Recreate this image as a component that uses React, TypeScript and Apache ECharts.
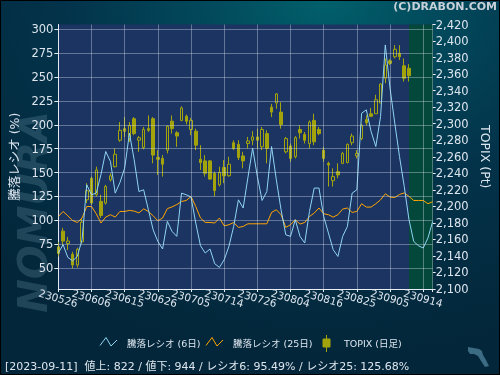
import React, { useEffect, useRef } from 'react';
import * as echarts from 'echarts';

const dates = ['230526','230529','230530','230531','230601','230602','230605','230606','230607','230608','230609','230612','230613','230614','230615','230616','230619','230620','230621','230622','230623','230626','230627','230628','230629','230630','230703','230704','230705','230706','230707','230710','230711','230712','230713','230714','230718','230719','230720','230721','230724','230725','230726','230727','230728','230731','230801','230802','230803','230804','230807','230808','230809','230810','230814','230815','230816','230817','230818','230821','230822','230823','230824','230825','230828','230829','230830','230831','230901','230904','230905','230906','230907','230908','230911','230912','230913','230914','230915','230919'];

// TOPIX daily candles: [open, close, low, high]
const topix = [
[2151,2143,2139,2157],[2170,2158,2153,2174],[2155,2158,2147,2163],[2142,2129,2125,2145],[2129,2148,2126,2150],
[2157,2181,2155,2186],[2208,2219,2204,2228],[2234,2204,2202,2236],[2214,2244,2212,2248],[2206,2189,2186,2214],
[2204,2224,2202,2226],[2232,2237,2230,2240],[2248,2263,2247,2270],[2280,2292,2278,2302],[2294,2291,2284,2308],
[2282,2298,2278,2302],[2306,2288,2286,2308],[2280,2283,2266,2285],[2271,2293,2269,2296],[2294,2292,2290,2310],
[2306,2262,2252,2308],[2259,2257,2238,2268],[2258,2251,2236,2262],[2268,2297,2264,2298],[2303,2294,2288,2310],
[2289,2285,2272,2291],[2304,2319,2303,2321],[2309,2303,2299,2311],[2293,2304,2286,2307],[2291,2274,2268,2294],
[2257,2253,2244,2274],[2255,2240,2236,2262],[2255,2233,2232,2256],[2240,2219,2212,2242],[2226,2241,2224,2248],
[2247,2237,2228,2256],[2237,2251,2236,2260],[2277,2270,2268,2280],[2275,2259,2256,2280],[2261,2255,2246,2266],
[2276,2279,2270,2284],[2280,2284,2274,2291],[2284,2280,2270,2294],[2272,2293,2268,2296],[2288,2270,2252,2292],
[2320,2314,2308,2324],[2325,2336,2318,2337],[2314,2299,2294,2326],[2266,2282,2264,2284],[2273,2258,2254,2276],
[2260,2283,2258,2285],[2293,2289,2282,2298],[2287,2280,2276,2290],[2276,2302,2270,2304],[2304,2278,2274,2312],
[2293,2288,2286,2296],[2268,2258,2254,2272],[2252,2250,2224,2254],[2231,2236,2224,2246],[2242,2238,2234,2252],
[2252,2264,2251,2266],[2253,2275,2252,2276],[2277,2285,2274,2288],[2261,2264,2258,2268],[2282,2298,2280,2300],
[2305,2301,2298,2310],[2312,2309,2308,2319],[2312,2329,2312,2335],[2325,2348,2325,2349],[2355,2371,2349,2379],
[2376,2373,2371,2378],[2381,2390,2379,2395],[2385,2381,2377,2395],[2370,2355,2351,2379],[2367,2358,2351,2372],
];

// 騰落レシオ (6日)
const ratio6 = [
65.7,74.4,61.1,57.5,62.1,79.6,137.1,126.7,128.4,148.0,
172.0,161.5,128.4,139.5,154.6,191.2,163.3,130.1,131.9,111.0,
90.1,77.8,69.9,98.8,88.3,83.1,128.4,126.7,124.3,97.1,
73.3,65.7,69.9,54.5,50.6,58.7,72.6,93.5,121.4,112.8,
144.5,175.5,145.8,120.7,130.1,177.2,142.4,111.0,84.8,83.1,
100.5,83.1,76.2,109.2,133.7,133.7,104.0,86.6,69.2,62.1,
83.1,93.5,128.4,131.9,212.1,215.6,192.9,177.2,208.6,283.6,
238.3,201.7,166.7,135.4,100.5,77.8,73.3,70.9,81.4,98.8,
];

// 騰落レシオ (25日)
const ratio25 = [
103.9,109.2,104.7,99.8,97.7,102.3,114.4,114.4,106.8,97.1,
103.3,105.8,103.3,109.2,109.2,110.3,109.6,107.7,111.9,109.2,
104.7,99.5,102.3,112.2,114.0,116.4,119.7,120.7,124.9,114.4,
102.3,97.7,97.7,97.1,102.3,94.2,95.3,97.7,92.5,93.5,
96.3,96.3,96.3,96.3,96.3,108.2,111.0,105.8,92.5,95.3,
100.5,96.0,97.7,103.9,107.5,112.8,106.8,105.8,103.3,105.8,
111.7,112.8,108.2,109.2,117.3,113.8,113.8,117.3,121.4,127.7,
124.3,123.8,127.0,128.7,124.9,120.7,120.7,120.7,117.3,119.4,
];

const leftTicks = [50, 75, 100, 125, 150, 175, 200, 225, 250, 275, 300];
const dateTickStep = 7;
const futureStart = '230911';
const futureEnd = '230919';
const legendNames = ['騰落レシオ (6日)', '騰落レシオ (25日)', 'TOPIX (日足)'];
const leftAxisName = '騰落レシオ (%)';
const rightAxisName = 'TOPIX (Pt)';
const titleText = '(C)DRABON.COM';
const watermarkText = 'NOMURA';
const statusText = '[2023-09-11]  値上: 822 / 値下: 944 / レシオ6: 95.49% / レシオ25: 125.68%';

const FONT = '"DejaVu Sans", "Noto Sans CJK JP", sans-serif';
const TXT = '#dde5ee';
const OLIVE = '#a3a30c';
const BLUE = '#8fd4f2';
const ORANGE = '#ffa500';
const GRID = 'rgba(215,225,240,0.38)';

export default function App() {
  const ref = useRef<HTMLDivElement>(null);
  useEffect(() => {
    const chart = echarts.init(ref.current as HTMLDivElement, null, { renderer: 'svg' });
    const gridMarks: any[] = leftTicks.map((v) => ({ yAxis: v }));
    dates.forEach((d, i) => {
      if (i % dateTickStep === 0) gridMarks.push({ xAxis: d });
    });
    const option: any = {
      animation: false,
      backgroundColor: {
        type: 'radial', x: 0.65, y: 0, r: 0.95,
        colorStops: [
          { offset: 0, color: '#01606b' },
          { offset: 0.25, color: '#02495c' },
          { offset: 0.55, color: '#03334a' },
          { offset: 1, color: '#03263a' },
        ],
      },
      textStyle: { fontFamily: FONT },
      grid: { left: 57.5, right: 62, top: 24.5, bottom: 86, show: true, backgroundColor: '#1c3462', borderWidth: 0 },
      xAxis: {
        type: 'category', data: dates, boundaryGap: false,
        axisLine: { lineStyle: { color: '#e8eef4', width: 1 } },
        axisTick: { show: true, interval: dateTickStep - 1, length: 3, lineStyle: { color: '#e8eef4' } },
        axisLabel: {
          interval: 0, rotate: -16, align: 'center', verticalAlign: 'middle', margin: 9,
          hideOverlap: false,
          formatter: (v: string, i: number) => (i % dateTickStep === 0 ? v : ''),
          color: TXT, fontSize: 10.5, fontFamily: FONT,
        },
        splitLine: { show: false },
      },
      yAxis: [
        {
          type: 'value', min: 28, max: 305, position: 'left',
          name: leftAxisName, nameLocation: 'middle', nameGap: 30,
          nameTextStyle: { color: TXT, fontSize: 12.5, fontFamily: FONT },
          axisLine: { show: true, lineStyle: { color: '#e8eef4', width: 1 } },
          axisTick: { show: true, length: 4, customValues: leftTicks, lineStyle: { color: '#e8eef4' } },
          axisLabel: { customValues: leftTicks, margin: 5, color: TXT, fontSize: 11.5, fontFamily: FONT },
          splitLine: { show: false },
        },
        {
          type: 'value', min: 2100, max: 2420, interval: 20, position: 'right',
          name: rightAxisName, nameLocation: 'middle', nameGap: 42, nameRotate: -90,
          nameTextStyle: { color: TXT, fontSize: 12.5, fontFamily: FONT },
          axisLine: { show: true, lineStyle: { color: '#e8eef4', width: 1 } },
          axisTick: { show: true, length: 3, lineStyle: { color: '#e8eef4' } },
          axisLabel: {
            margin: 3, color: TXT, fontSize: 11.5, fontFamily: FONT,
            formatter: (v: number) => v.toLocaleString('en-US'),
          },
          splitLine: { show: false },
        },
      ],
      series: [
        {
          type: 'candlestick', name: legendNames[2], yAxisIndex: 1, data: topix, barWidth: 3, z: 1,
          itemStyle: { color: 'transparent', color0: OLIVE, borderColor: OLIVE, borderColor0: OLIVE, borderWidth: 1 },
          markArea: {
            silent: true,
            itemStyle: { color: '#03483a' },
            data: [[{ xAxis: futureStart }, { xAxis: futureEnd }]],
          },
        },
        {
          type: 'line', name: legendNames[1], yAxisIndex: 0, data: ratio25, z: 3,
          symbol: 'none', showSymbol: false, lineStyle: { color: ORANGE, width: 1 }, itemStyle: { color: ORANGE },
          markLine: {
            silent: true, symbol: 'none', label: { show: false },
            lineStyle: { type: 'solid', color: GRID, width: 1 },
            emphasis: { disabled: true },
            data: gridMarks,
          },
        },
        {
          type: 'line', name: legendNames[0], yAxisIndex: 0, data: ratio6, z: 4,
          symbol: 'none', showSymbol: false, lineStyle: { color: BLUE, width: 1 }, itemStyle: { color: BLUE },
        },
      ],
      graphic: [
        {
          type: 'text', x: 33, y: 212, rotation: Math.PI / 2, z: -1,
          style: { text: watermarkText, font: 'italic bold 40px "DejaVu Sans"', fill: 'rgba(100,140,160,0.3)', align: 'center', verticalAlign: 'middle' },
        },
        {
          type: 'text', right: 3, top: 1,
          style: { text: titleText, font: 'bold 11px "DejaVu Sans"', fill: '#c8d1d9' },
        },
        { type: 'polyline', shape: { points: [[100, 345.5], [106, 337.5], [111, 346], [117, 340]] }, style: { stroke: BLUE, lineWidth: 1, fill: null } },
        { type: 'text', x: 127, y: 343, style: { text: legendNames[0], font: '9.5px ' + FONT, fill: TXT, verticalAlign: 'middle' } },
        { type: 'polyline', shape: { points: [[206, 345.5], [212, 337.5], [217, 346], [223, 340]] }, style: { stroke: ORANGE, lineWidth: 1, fill: null } },
        { type: 'text', x: 233, y: 343, style: { text: legendNames[1], font: '9.5px ' + FONT, fill: TXT, verticalAlign: 'middle' } },
        { type: 'line', shape: { x1: 326.5, y1: 335, x2: 326.5, y2: 352 }, style: { stroke: OLIVE, lineWidth: 1 } },
        { type: 'rect', shape: { x: 323, y: 339, width: 7, height: 8 }, style: { fill: OLIVE, stroke: OLIVE } },
        { type: 'text', x: 344, y: 343, style: { text: legendNames[2], font: '9.5px ' + FONT, fill: TXT, verticalAlign: 'middle' } },
        { type: 'text', x: 5, y: 366, style: { text: statusText, font: '11px ' + FONT, fill: TXT, verticalAlign: 'middle' } },
        {
          type: 'polygon',
          shape: { points: [[468, 347], [479, 349], [482, 351], [483, 355], [486, 360], [489, 366], [485, 367], [481, 361], [478, 356], [474, 354], [470, 354], [468, 351]] },
          style: { fill: '#3c6c83' },
        },
        { type: 'rect', shape: { x: 0.5, y: 0.5, width: 499, height: 374 }, style: { fill: null, stroke: '#000', lineWidth: 1 }, z: 100 },
      ],
    };
    chart.setOption(option);
    return () => chart.dispose();
  }, []);
  return <div ref={ref} style={{ position: 'fixed', left: 0, top: 0, width: 500, height: 375 }} />;
}
